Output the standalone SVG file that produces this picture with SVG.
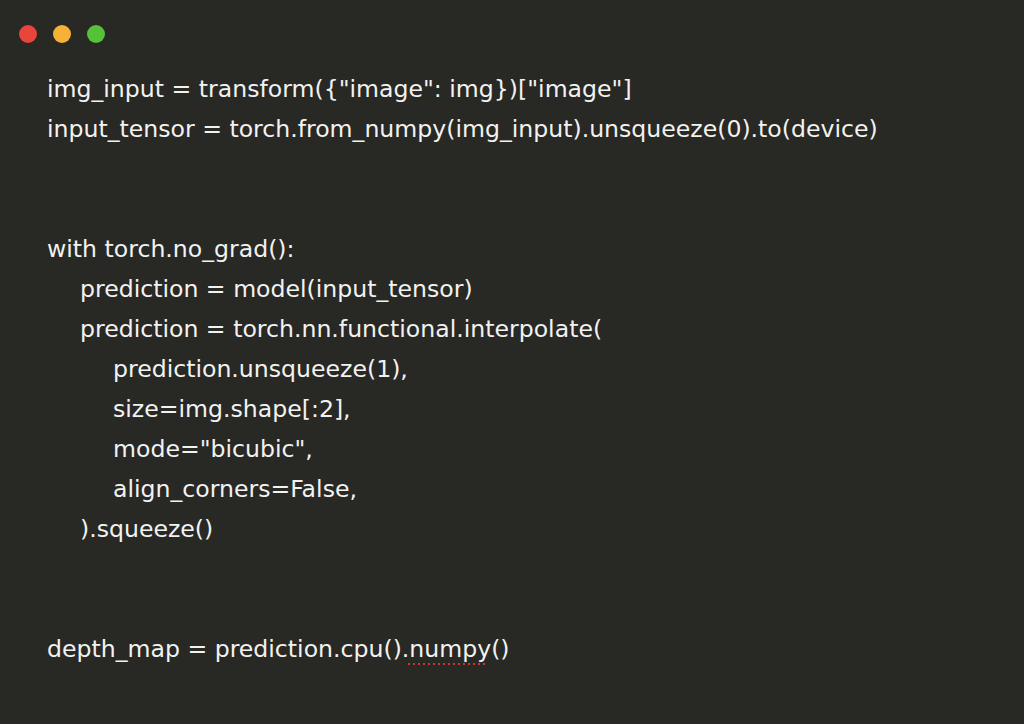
<svg xmlns="http://www.w3.org/2000/svg" width="1024" height="724" viewBox="0 0 1024 724">
<style>
text{font-family:"DejaVu Sans","Noto Sans",sans-serif;font-size:23.6px;fill:#f2f2f0}
</style>
<rect width="1024" height="724" fill="#282825"/>
<circle cx="28" cy="34" r="9" fill="#e8453c"/>
<circle cx="62" cy="34" r="9" fill="#f5b236"/>
<circle cx="96" cy="34" r="9" fill="#55c23a"/>
<text x="47" y="97">img_input = transform({"image": img})["image"]</text>
<text x="47" y="137">input_tensor = torch.from_numpy(img_input).unsqueeze(0).to(device)</text>
<text x="47" y="257">with torch.no_grad():</text>
<text x="80" y="297">prediction = model(input_tensor)</text>
<text x="80" y="337">prediction = torch.nn.functional.interpolate(</text>
<text x="113" y="377">prediction.unsqueeze(1),</text>
<text x="113" y="417">size=img.shape[:2],</text>
<text x="113" y="457">mode="bicubic",</text>
<text x="113" y="497">align_corners=False,</text>
<text x="80" y="537">).squeeze()</text>
<text x="47" y="657">depth_map = prediction.cpu().numpy()</text>
<line x1="408" y1="664" x2="488" y2="664" stroke="#d0342c" stroke-width="2" stroke-dasharray="2 3"/>
</svg>
